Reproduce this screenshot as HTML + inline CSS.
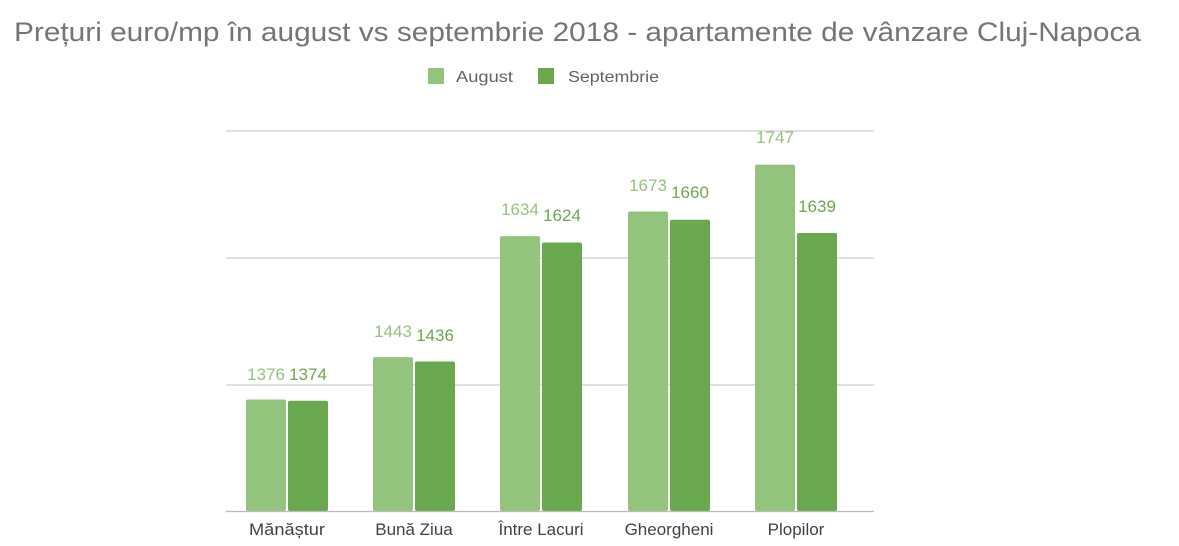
<!DOCTYPE html>
<html><head><meta charset="utf-8"><style>
body{margin:0;background:#fff;width:1179px;height:541px;overflow:hidden;font-family:"Liberation Sans",sans-serif}
</style></head><body>
<svg width="1179" height="541" xmlns="http://www.w3.org/2000/svg" font-family="Liberation Sans, sans-serif">
<text x="14" y="41" font-size="27" fill="#757575" textLength="1127" lengthAdjust="spacingAndGlyphs">Prețuri euro/mp în august vs septembrie 2018 - apartamente de vânzare Cluj-Napoca</text>
<rect x="428" y="68" width="16" height="16" fill="#93c47d"/>
<text x="456" y="82" font-size="16" fill="#616161" textLength="57" lengthAdjust="spacingAndGlyphs">August</text>
<rect x="538" y="68" width="16" height="16" fill="#6aa84f"/>
<text x="568" y="82" font-size="16" fill="#616161" textLength="91" lengthAdjust="spacingAndGlyphs">Septembrie</text>
<g stroke="#cccccc" stroke-width="1.3">
<line x1="226" x2="874" y1="131" y2="131"/>
<line x1="226" x2="874" y1="258" y2="258"/>
<line x1="226" x2="874" y1="385" y2="385"/>
</g>
<g>
<rect x="246" y="399.5" width="40" height="111.5" rx="2" fill="#93c47d"/>
<rect x="288" y="400.8" width="40" height="110.2" rx="2" fill="#6aa84f"/>
<rect x="373" y="357.1" width="40" height="153.9" rx="2" fill="#93c47d"/>
<rect x="415" y="361.5" width="40" height="149.5" rx="2" fill="#6aa84f"/>
<rect x="500" y="236.1" width="40" height="274.9" rx="2" fill="#93c47d"/>
<rect x="542" y="242.5" width="40" height="268.5" rx="2" fill="#6aa84f"/>
<rect x="628" y="211.5" width="40" height="299.5" rx="2" fill="#93c47d"/>
<rect x="670" y="219.7" width="40" height="291.3" rx="2" fill="#6aa84f"/>
<rect x="755" y="164.6" width="40" height="346.4" rx="2" fill="#93c47d"/>
<rect x="797" y="233" width="40" height="278" rx="2" fill="#6aa84f"/>
</g>
<line x1="226" x2="874" y1="511.5" y2="511.5" stroke="#bbbbbb" stroke-width="1.3"/>
<g font-size="17" text-anchor="middle">
<text x="266" y="380" fill="#93c47d">1376</text>
<text x="308" y="380" fill="#6aa84f">1374</text>
<text x="393" y="337" fill="#93c47d">1443</text>
<text x="435" y="341" fill="#6aa84f">1436</text>
<text x="520" y="215" fill="#93c47d">1634</text>
<text x="562" y="221" fill="#6aa84f">1624</text>
<text x="648" y="191" fill="#93c47d">1673</text>
<text x="690" y="198" fill="#6aa84f">1660</text>
<text x="775" y="143" fill="#93c47d">1747</text>
<text x="817" y="212" fill="#6aa84f">1639</text>
</g>
<g font-size="17" text-anchor="middle" fill="#424242">
<text x="287" y="535" textLength="76" lengthAdjust="spacingAndGlyphs">Mănăștur</text>
<text x="414" y="535">Bună Ziua</text>
<text x="541" y="535">Între Lacuri</text>
<text x="669" y="535">Gheorgheni</text>
<text x="796" y="535">Plopilor</text>
</g>
</svg>
</body></html>
